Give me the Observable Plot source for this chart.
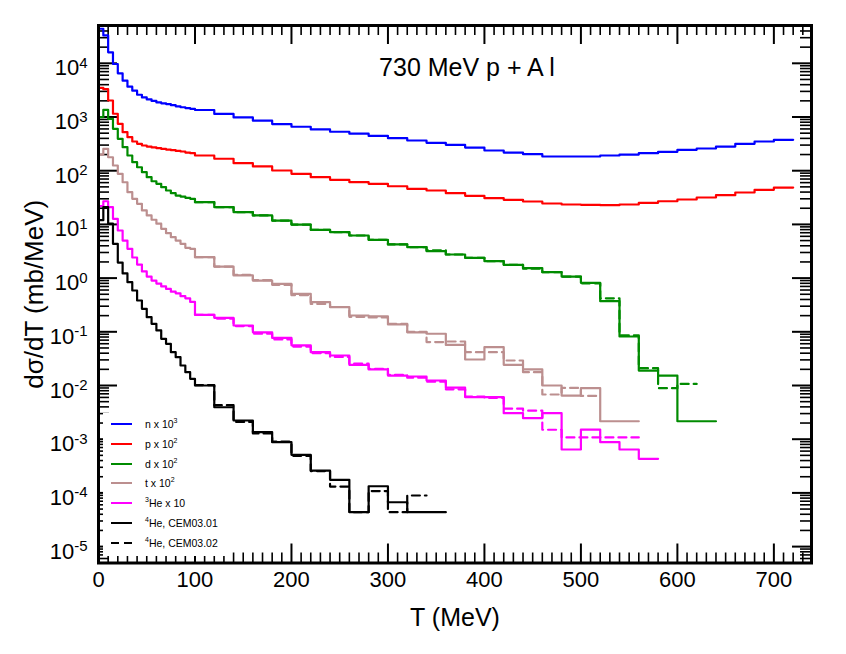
<!DOCTYPE html>
<html><head><meta charset="utf-8">
<script src="https://cdn.jsdelivr.net/npm/d3@7"></script>
<script src="https://cdn.jsdelivr.net/npm/@observablehq/plot@0.6"></script>
<style>
body{margin:0;background:#fff;font-family:"Liberation Sans",Arial,Helvetica,sans-serif;}
#wrap{position:relative;width:846px;height:654px;}
#legend{position:absolute;left:103px;top:413px;width:128px;height:143px;background:#fff;}
.row{position:absolute;left:0;height:14px;}
.row svg{position:absolute;left:8px;top:0;}
.row span{position:absolute;left:42px;top:0;font-size:10.5px;line-height:14px;white-space:nowrap;color:#000;}
.row sup{font-size:7px;vertical-align:5px;line-height:0;}
</style>
</head><body>
<div id="wrap"><div id="chart"></div><div id="legend"></div></div>
<script>
// Bin edges (MeV): 5 MeV bins up to 100, then 20 MeV bins
const binEdges = [0,5,10,15,20,25,30,35,40,45,50,55,60,65,70,75,80,85,90,95,100,
  120,140,160,180,200,220,240,260,280,300,320,340,360,380,400,420,440,460,480,500,
  520,540,560,580,600,620,640,660,680,700,720];

// CEM03.01 (solid)
const nVals = [4.4e4,3.3e4,1.6e4,9.7e3,6.5e3,4.75e3,3.67e3,3.1e3,2.6e3,2.32e3,2.13e3,1.99e3,1.87e3,1.8e3,1.74e3,1.66e3,1.58e3,1.52e3,1.47e3,1.42e3,
  1350,1140,984,853,740,659,587,532,490,445,403,365,331,304,270,238,218,203,184,184,184,192,200,212,225,245,259,282,317,350,376];
const pVals = [3.5e3,3.3e3,2.03e3,1.15e3,747,521,421,350,317,295,282,271,263,255,248,241,234,228,218,212,
  192,167,138,120,101,87.5,75.7,67.6,61.1,57,51.4,46,42.8,38.1,34.1,30.8,28.7,26.7,24.5,23.5,23.2,22.8,23.5,25.2,27,29.1,31.7,35,39.3,44,48.6];
const dVals = [991,1360,925,603,393,274,192,144,116,93.8,75.7,63.7,57,49.3,42.8,38.1,34.5,33,31.3,30,
  25.9,20.9,16.9,14.7,11.8,9.95,7.93,7.16,6.21,5.16,4.23,3.77,3.17,2.75,2.39,2.07,1.77,1.53,1.29,1.07,0.818,0.372,0.0817,0.019,0.0153,0.00216,0.00216];
const tVals = [200,256,178,125,87.5,61,39.8,30,24.2,18.2,14.7,12.2,10.3,8.28,6.86,5.78,5.0,4.35,3.66,3.51,
  2.45,1.64,1.12,0.90,0.783,0.510,0.356,0.287,0.201,0.195,0.137,0.098,0.092,0.057,0.0305,0.0517,0.0243,0.0199,0.010,0.0065,0.0089,0.00216,0.00216];
const he3Vals = [22,27,20.9,12.7,7.7,5.0,3.51,2.42,1.79,1.33,1.07,0.90,0.79,0.70,0.63,0.56,0.52,0.46,0.42,0.36,
  0.207,0.182,0.131,0.098,0.077,0.056,0.0417,0.0362,0.0243,0.0199,0.0153,0.0147,0.0124,0.0091,0.0061,0.0061,0.00305,0.00246,0.00305,0.000643,0.00151,0.00088,0.000643,0.000431];
const he4Vals = [12,20.9,10.3,4.35,1.95,1.22,0.84,0.588,0.383,0.268,0.187,0.141,0.106,0.0741,0.0598,0.0417,0.0337,0.0236,0.0177,0.0133,
  0.0100,0.00394,0.00223,0.00135,0.00088,0.000512,0.000261,0.000175,0.0000437,0.000133,0.000067,0.0000437,0.0000437];

// CEM03.02 (dashed), starting at the 100 MeV edge
const dashStart = 100;
const dVals2 = [25.9,20.9,16.9,14.7,11.8,9.95,7.93,7.16,6.21,5.16,4.23,3.77,3.3,2.75,2.39,2.07,1.77,1.5,1.29,1.07,0.80,0.42,0.086,0.021,0.0089,0.0107];
const tVals2 = [2.45,1.64,1.15,0.92,0.75,0.48,0.33,0.29,0.19,0.185,0.14,0.10,0.0645,0.066,0.0417,0.0417,0.0292,0.0177,0.0068,0.009,0.0064];
const he3Vals2 = [0.207,0.175,0.128,0.092,0.072,0.053,0.040,0.034,0.0255,0.0205,0.0158,0.0140,0.0118,0.0085,0.0062,0.0059,0.0037,0.0034,0.0015,0.00108,0.00108,0.00108,0.00108];
const he4Vals2 = [0.0102,0.0043,0.0021,0.00128,0.00090,0.00049,0.000255,0.000131,0.0000437,0.000108,0.0000437,0.0000895];

const seriesNames = ["n x 10|3","p x 10|2","d x 10|2","t x 10|2","^3He x 10","^4He, CEM03.01","^4He, CEM03.02"];
const seriesColors = ["#0000ff","#ff0000","#008b00","#bc8f8f","#ff00ff","#000000","#000000"];
const legendDash = [false,false,false,false,false,false,true];

const xTicks = [0,100,200,300,400,500,600,700];
const yTicks = [1e-5,1e-4,1e-3,1e-2,1e-1,1,10,100,1e3,1e4];
const xDomain = [0, 739];
const yDomain = [4.95e-6, 5.06e4];

const W = 846, H = 654, mL = 98, mR = 35, mT = 25, mB = 91.5;
const plotH = H - mT - mB, plotW = W - mL - mR;

const xMinor = d3.range(10, 740, 10).filter(v => v % 100 !== 0);
const yMinor = [];
for (let e = -6; e <= 4; e++) for (let k = 2; k <= 9; k++) {
  const v = k * Math.pow(10, e);
  if (v > yDomain[0] && v < yDomain[1]) yMinor.push(v);
}

function steps(vals, startEdge, name) {
  const i0 = binEdges.indexOf(startEdge);
  const rows = vals.map((v, i) => ({T: binEdges[i0 + i], v, name}));
  rows.push({T: binEdges[i0 + vals.length], v: vals[vals.length - 1], name});
  return rows;
}

const solid = [
  [nVals, seriesColors[0]], [pVals, seriesColors[1]], [dVals, seriesColors[2]],
  [tVals, seriesColors[3]], [he3Vals, seriesColors[4]], [he4Vals, seriesColors[5]]
];
const dashed = [
  [dVals2, seriesColors[2]], [tVals2, seriesColors[3]], [he3Vals2, seriesColors[4]], [he4Vals2, seriesColors[6]]
];

const lineMarks = [];
dashed.forEach(([vals, c]) => lineMarks.push(Plot.lineY(steps(vals, dashStart), {x: "T", y: "v", curve: "step-after", stroke: c, strokeWidth: 2.2, strokeDasharray: "8,5", clip: true})));
solid.forEach(([vals, c]) => lineMarks.push(Plot.lineY(steps(vals, 0), {x: "T", y: "v", curve: "step-after", stroke: c, strokeWidth: 2.2, clip: true})));

const majLen = 19, minLen = 10;
const chart = Plot.plot({
  width: W, height: H,
  marginLeft: mL, marginRight: mR, marginTop: mT, marginBottom: mB,
  style: {fontFamily: "'Liberation Sans', Arial, Helvetica, sans-serif", background: "white", color: "black"},
  x: {domain: xDomain},
  y: {type: "log", domain: yDomain},
  marks: [
    Plot.tickX(xMinor, {insetTop: plotH - minLen, strokeWidth: 1.6}),
    Plot.tickX(xMinor, {insetBottom: plotH - minLen, strokeWidth: 1.6}),
    Plot.tickX(xTicks, {insetTop: plotH - majLen, strokeWidth: 2}),
    Plot.tickX(xTicks, {insetBottom: plotH - majLen, strokeWidth: 2}),
    Plot.tickY(yMinor, {insetRight: plotW - minLen - 1, strokeWidth: 1.6}),
    Plot.tickY(yMinor, {insetLeft: plotW - minLen - 1, strokeWidth: 1.6}),
    Plot.tickY(yTicks, {insetRight: plotW - majLen, strokeWidth: 2}),
    Plot.tickY(yTicks, {insetLeft: plotW - majLen, strokeWidth: 2}),
    Plot.axisX(xTicks, {tickSize: 0, tickPadding: 8, fontSize: 22, label: null}),
    Plot.axisY(yTicks, {tickSize: 0, tickPadding: 11, fontSize: 22, dy: 5, label: null,
      tickFormat: d => "10|" + Math.round(Math.log10(d))}),
    ...lineMarks,
    Plot.frame({strokeWidth: 3}),
    Plot.text(["730 MeV p + A l"], {text: d => d, frameAnchor: "top", dx: 12, dy: 42, fontSize: 25, lineAnchor: "middle"}),
    Plot.text(["T (MeV)"], {text: d => d, frameAnchor: "bottom", dy: 55, fontSize: 25, lineAnchor: "middle"}),
    Plot.text(["dσ/dT (mb/MeV)"], {text: d => d, frameAnchor: "left", textAnchor: "middle", dx: -64, rotate: -90, fontSize: 26, lineAnchor: "middle"})
  ]
});
document.getElementById("chart").appendChild(chart);

// superscript exponents on the log axis labels
chart.querySelectorAll("text").forEach(t => {
  const s = t.textContent;
  if (s.includes("|") && !t.querySelector("tspan")) {
    const [base, exp] = s.split("|");
    t.textContent = base;
    const ts = document.createElementNS("http://www.w3.org/2000/svg", "tspan");
    ts.setAttribute("dy", "-0.5em");
    ts.setAttribute("font-size", "15");
    ts.textContent = exp;
    t.appendChild(ts);
  }
});

// legend
const legend = document.getElementById("legend");
seriesNames.forEach((name, i) => {
  const row = document.createElement("div");
  row.className = "row";
  row.style.top = (4 + i * 19.8) + "px";
  const dash = legendDash[i] ? ' stroke-dasharray="8,5"' : '';
  let html = name.replace(/\|(\d+)/, "<sup>$1</sup>").replace(/\^(\d)/, "<sup>$1</sup>");
  row.innerHTML = `<svg width="22" height="14"><line x1="0" x2="21" y1="7" y2="7" stroke="${seriesColors[i]}" stroke-width="2"${dash}/></svg><span>${html}</span>`;
  legend.appendChild(row);
});
</script>
</body></html>
